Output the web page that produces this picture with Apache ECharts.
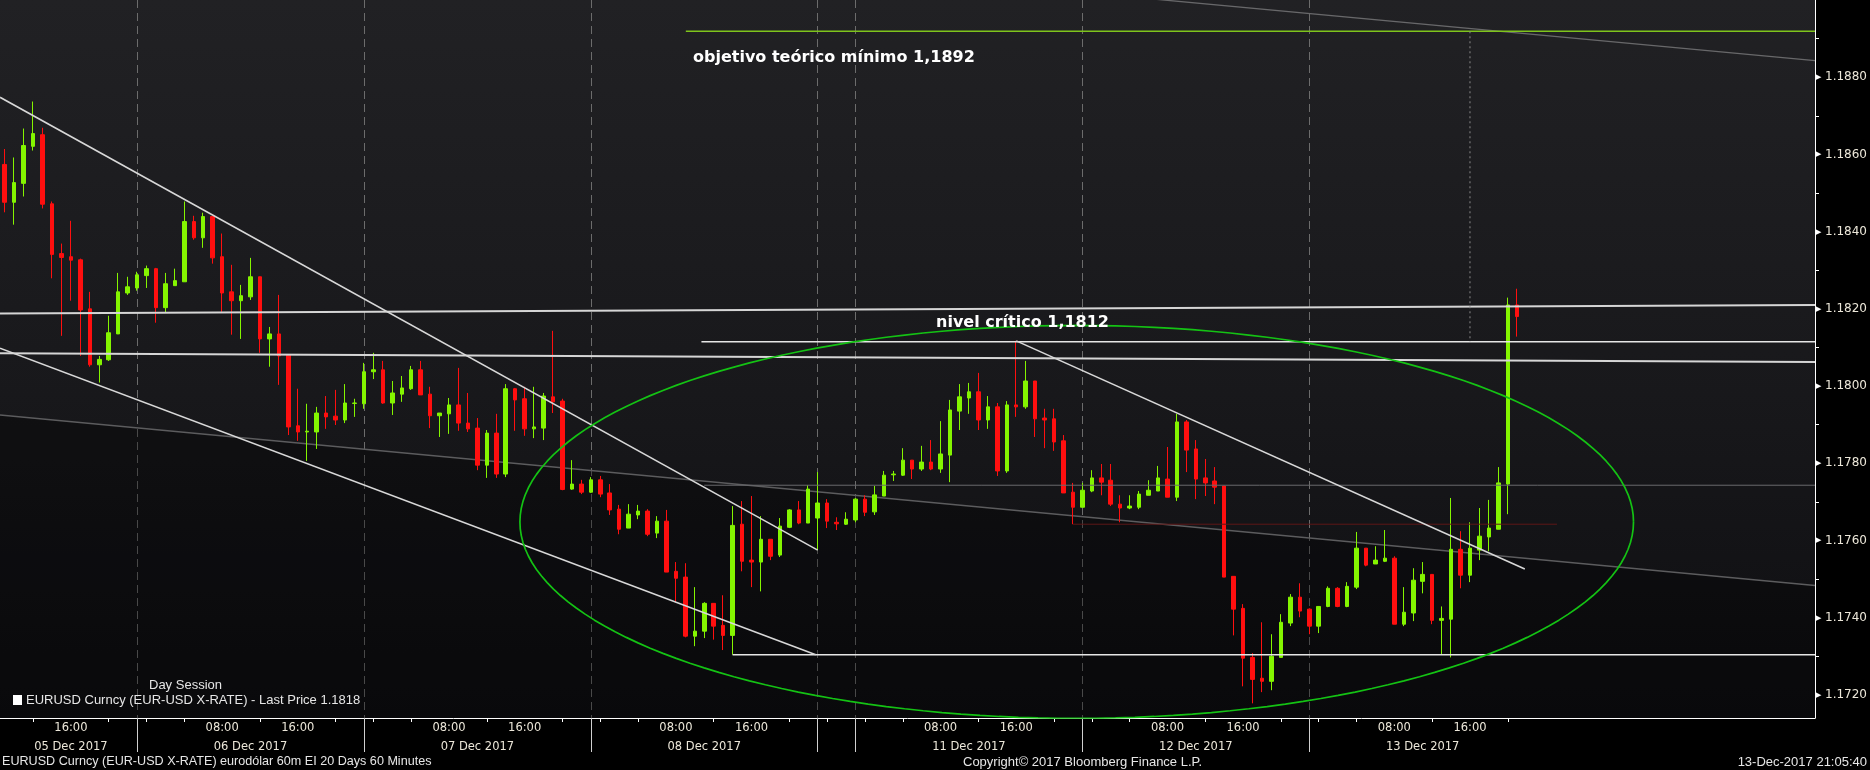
<!DOCTYPE html>
<html><head><meta charset="utf-8">
<script src="https://cdn.jsdelivr.net/npm/echarts@6/dist/echarts.min.js"></script>
<style>html,body{margin:0;padding:0;background:#000;overflow:hidden}#c{width:1870px;height:770px}</style>
</head><body><div id="c"></div>
<script>
// ---- time axis: hourly sessions [startDate, startHour, hours] ----
const sessions = [['2017-12-05', 9, 87], ['2017-12-10', 20, 105]];
const dateLabelCats = ['2017-12-05 16:00','2017-12-06 11:00','2017-12-07 11:00','2017-12-08 11:00','2017-12-11 11:00','2017-12-12 11:00','2017-12-13 11:00'];
const timeLabelHours = [8, 16];
const timeTickHours = [0, 4, 12, 20];
const separatorHour = 23;
const yTicks = {min: 1.1714, max: 1.1900};

// ---- EURUSD 60m OHLC ----
const open = [
1.18574,1.18476,1.18525,1.18621,1.18651,1.18472,1.18343,1.18335,1.18327,1.18200,
1.18055,1.18068,1.18135,1.18241,1.18254,1.18286,1.18304,1.18203,1.18260,1.18270,
1.18426,1.18384,1.18439,1.18335,1.18244,1.18221,1.18231,1.18283,1.18122,1.18135,
1.18080,1.17897,1.17881,1.17881,1.17930,1.17922,1.17912,1.17955,1.17954,1.18037,
1.18042,1.17956,1.17979,1.17993,1.18042,1.17979,1.17923,1.17928,1.17951,1.17904,
1.17891,1.17795,1.17878,1.17772,1.17993,1.17967,1.17889,1.17891,1.17972,1.17961,
1.17733,1.17746,1.17725,1.17757,1.17723,1.17681,1.17632,1.17666,1.17676,1.17619,
1.17650,1.17520,1.17505,1.17352,1.17365,1.17437,1.17380,1.17354,1.17642,1.17549,
1.17544,1.17603,1.17562,1.17634,1.17679,1.17645,1.17658,1.17697,1.17647,1.17642,
1.17653,1.17707,1.17674,1.17715,1.17770,1.17769,1.17808,1.17785,1.17803,1.17785,
1.17821,1.17935,1.17969,1.17985,1.17912,1.17946,1.17780,1.17951,1.17946,1.18013,
1.17917,1.17915,1.17858,1.17725,1.17686,1.17728,1.17762,1.17756,1.17694,1.17684,
1.17686,1.17717,1.17728,1.17759,1.17712,1.17907,1.17837,1.17762,1.17754,1.17741,
1.17507,1.17424,1.17297,1.17243,1.17235,1.17297,1.17386,1.17453,1.17422,1.17378,
1.17429,1.17476,1.17429,1.17479,1.17580,1.17539,1.17546,1.17554,1.17383,1.17412,
1.17494,1.17512,1.17393,1.17396,1.17577,1.17510,1.17575,1.17609,1.17629,1.17746,
1.18210];
const high = [
1.18614,1.18592,1.18667,1.18737,1.18669,1.18478,1.18369,1.18428,1.18330,1.18244,
1.18078,1.18182,1.18293,1.18283,1.18296,1.18312,1.18306,1.18293,1.18304,1.18478,
1.18441,1.18449,1.18439,1.18395,1.18314,1.18262,1.18332,1.18283,1.18153,1.18236,
1.18080,1.17993,1.17954,1.17946,1.17974,1.17990,1.18005,1.17967,1.18060,1.18086,
1.18065,1.18013,1.18026,1.18052,1.18065,1.17998,1.17930,1.17969,1.18047,1.17982,
1.17917,1.17886,1.17928,1.18005,1.17995,1.17998,1.17998,1.17982,1.18143,1.17967,
1.17808,1.17757,1.17764,1.17767,1.17746,1.17692,1.17694,1.17692,1.17681,1.17663,
1.17679,1.17544,1.17541,1.17479,1.17440,1.17437,1.17458,1.17689,1.17702,1.17715,
1.17663,1.17603,1.17658,1.17681,1.17702,1.17743,1.17777,1.17707,1.17660,1.17673,
1.17710,1.17717,1.17741,1.17780,1.17780,1.17839,1.17808,1.17845,1.17860,1.17909,
1.17964,1.18005,1.18008,1.18034,1.17974,1.17956,1.17961,1.18117,1.18065,1.18013,
1.17941,1.17941,1.17873,1.17749,1.17749,1.17782,1.17798,1.17798,1.17717,1.17717,
1.17728,1.17756,1.17793,1.17842,1.17928,1.17912,1.17860,1.17811,1.17790,1.17741,
1.17507,1.17435,1.17308,1.17388,1.17357,1.17409,1.17461,1.17489,1.17424,1.17429,
1.17481,1.17479,1.17492,1.17622,1.17580,1.17585,1.17627,1.17559,1.17479,1.17528,
1.17544,1.17512,1.17429,1.17710,1.17624,1.17647,1.17684,1.17705,1.17790,1.18229,
1.18252];
const low = [
1.18450,1.18418,1.18491,1.18610,1.18460,1.18279,1.18130,1.18221,1.18078,1.18050,
1.18009,1.18065,1.18135,1.18236,1.18247,1.18254,1.18164,1.18190,1.18260,1.18270,
1.18379,1.18358,1.18317,1.18192,1.18133,1.18122,1.18223,1.18086,1.18050,1.18003,
1.17873,1.17858,1.17806,1.17837,1.17889,1.17899,1.17904,1.17920,1.17941,1.18018,
1.17954,1.17925,1.17959,1.17990,1.17977,1.17891,1.17868,1.17876,1.17884,1.17881,
1.17782,1.17762,1.17762,1.17764,1.17884,1.17871,1.17865,1.17860,1.17930,1.17730,
1.17731,1.17720,1.17723,1.17712,1.17666,1.17616,1.17632,1.17655,1.17611,1.17606,
1.17518,1.17440,1.17349,1.17326,1.17347,1.17343,1.17316,1.17304,1.17520,1.17479,
1.17468,1.17549,1.17557,1.17632,1.17642,1.17645,1.17575,1.17632,1.17627,1.17640,
1.17647,1.17663,1.17666,1.17715,1.17754,1.17767,1.17759,1.17780,1.17782,1.17775,
1.17751,1.17886,1.17928,1.17886,1.17889,1.17767,1.17775,1.17920,1.17941,1.17868,
1.17839,1.17832,1.17723,1.17642,1.17686,1.17725,1.17717,1.17689,1.17647,1.17681,
1.17681,1.17717,1.17728,1.17712,1.17702,1.17777,1.17707,1.17715,1.17694,1.17505,
1.17354,1.17222,1.17178,1.17207,1.17212,1.17297,1.17378,1.17401,1.17357,1.17360,
1.17427,1.17427,1.17427,1.17474,1.17533,1.17539,1.17544,1.17383,1.17378,1.17391,
1.17463,1.17383,1.17305,1.17297,1.17476,1.17492,1.17549,1.17572,1.17629,1.17668,
1.18128];
const close = [
1.18476,1.18527,1.18623,1.18654,1.18471,1.18341,1.18333,1.18326,1.18197,1.18055,
1.18069,1.18138,1.18244,1.18257,1.18288,1.18304,1.18203,1.18265,1.18273,1.18426,
1.18384,1.18439,1.18332,1.18241,1.18221,1.18234,1.18283,1.18122,1.18135,1.18078,
1.17894,1.17881,1.17883,1.17930,1.17920,1.17912,1.17956,1.17956,1.18037,1.18042,
1.17956,1.17982,1.17995,1.18042,1.17977,1.17923,1.17930,1.17951,1.17904,1.17889,
1.17795,1.17878,1.17772,1.17993,1.17964,1.17889,1.17894,1.17974,1.17959,1.17732,
1.17746,1.17725,1.17757,1.17720,1.17679,1.17629,1.17668,1.17676,1.17616,1.17650,
1.17518,1.17502,1.17352,1.17365,1.17437,1.17378,1.17354,1.17639,1.17546,1.17544,
1.17603,1.17559,1.17637,1.17679,1.17645,1.17733,1.17697,1.17650,1.17643,1.17655,
1.17707,1.17673,1.17718,1.17769,1.17772,1.17808,1.17785,1.17803,1.17785,1.17824,
1.17938,1.17972,1.17985,1.17912,1.17946,1.17780,1.17951,1.17946,1.18013,1.17915,
1.17912,1.17855,1.17723,1.17686,1.17730,1.17762,1.17751,1.17694,1.17684,1.17689,
1.17720,1.17730,1.17762,1.17712,1.17907,1.17834,1.17759,1.17749,1.17738,1.17505,
1.17422,1.17295,1.17240,1.17235,1.17300,1.17388,1.17453,1.17417,1.17378,1.17429,
1.17476,1.17429,1.17481,1.17580,1.17536,1.17549,1.17554,1.17383,1.17414,1.17497,
1.17512,1.17393,1.17398,1.17577,1.17510,1.17580,1.17611,1.17632,1.17749,1.18210,
1.18180];

// ---- drawn studies: [candle number, price] ----
const upperChannel = [[0.5, 1.18748], [87, 1.17575]];
const lowerChannel = [[0.5, 1.18098], [86.8, 1.17304]];
const support1730  = [[78, 1.17304], [192.5, 1.17304]];
const res1820      = [[0.5, 1.18188], [192.5, 1.18210]];
const res1808      = [[0.5, 1.18085], [192.5, 1.18062]];
const nivelCritico = [[74.7, 1.18115], [192.5, 1.18115]];
const objetivo     = [[73.05, 1.18919], [192.5, 1.18919]];
const grayTop      = [[110, 1.19031], [192.5, 1.18843]];
const grayChannel  = [[0.5, 1.17925], [192.5, 1.17483]];
const gray1774     = [[75, 1.17743], [192.5, 1.17743]];
const red1764      = [[114, 1.17642], [165.2, 1.17642]];
const fromCritico  = [[108, 1.18117], [161.8, 1.17526]];
const projection   = [[156, 1.18919], [156, 1.18115]];
const ellipseDef   = {cx: 114.4, cy: 1.17648, rx: 58.9, ry: 0.00509};

// ---- build categories ----
const pad = n => String(n).padStart(2, '0');
const categories = [];
sessions.forEach(([d, h, n]) => {
  const t0 = Date.parse(d + 'T00:00:00Z') + h * 3600e3;
  for (let i = 0; i < n; i++) {
    const t = new Date(t0 + i * 3600e3);
    categories.push(t.getUTCFullYear() + '-' + pad(t.getUTCMonth() + 1) + '-' + pad(t.getUTCDate()) + ' ' + pad(t.getUTCHours()) + ':00');
  }
});
const nCandles = open.length;
const hourOf = i => +categories[i].slice(11, 13);
const isSep = i => i < nCandles && hourOf(i) === separatorHour;
const isTimeLabel = i => i < nCandles && timeLabelHours.includes(hourOf(i));
const isTimeTick = i => i < nCandles && timeTickHours.includes(hourOf(i));
const MON = ['Jan','Feb','Mar','Apr','May','Jun','Jul','Aug','Sep','Oct','Nov','Dec'];
const fmtDate = v => v.slice(8, 10) + ' ' + MON[+v.slice(5, 7) - 1] + ' ' + v.slice(0, 4);

const ohlc = open.map((o, i) => [o, close[i], low[i], high[i]]);
const ellipsePts = [];
for (let k = 0; k <= 180; k++) {
  const a = 2 * Math.PI * k / 180;
  ellipsePts.push([ellipseDef.cx + ellipseDef.rx * Math.cos(a), ellipseDef.cy + ellipseDef.ry * Math.sin(a)]);
}

const lbl = '#ece7d9';
const FONT = 'DejaVu Sans';
function study(data, color, width, type, extra) {
  return Object.assign({
    type: 'line', xAxisIndex: 2, yAxisIndex: 0, data, symbol: 'none', silent: true,
    lineStyle: {color, width, type: type || 'solid'}, z: 5, animation: false
  }, extra || {});
}

const chart = echarts.init(document.getElementById('c'));
chart.setOption({
  backgroundColor: '#000000',
  animation: false,
  grid: {
    left: 0, right: 52, top: 0, bottom: 52, show: true, borderWidth: 0,
    backgroundColor: {type: 'linear', x: 0, y: 0, x2: 0, y2: 1, colorStops: [
      {offset: 0, color: '#212124'}, {offset: 0.55, color: '#18181b'}, {offset: 1, color: '#0e0e11'}]}
  },
  xAxis: [
    {
      type: 'category', data: categories, boundaryGap: true, position: 'bottom',
      axisLine: {show: true, lineStyle: {color: '#ffffff', width: 1}},
      axisTick: {show: true, alignWithLabel: true, length: 4, interval: isTimeTick, lineStyle: {color: '#ffffff'}},
      axisLabel: {show: true, interval: isTimeLabel, formatter: v => v.slice(11, 16), color: lbl, fontFamily: FONT, fontSize: 11.5, margin: 4},
      splitLine: {show: false}
    },
    {
      type: 'category', data: categories, boundaryGap: true, position: 'bottom',
      axisLine: {show: false},
      axisTick: {show: true, alignWithLabel: true, length: 34, interval: isSep, lineStyle: {color: '#d0d0d0'}},
      axisLabel: {show: true, interval: i => dateLabelCats.includes(categories[i]), formatter: fmtDate, color: lbl, fontFamily: FONT, fontSize: 11.5, margin: 23},
      splitLine: {show: true, alignWithLabel: true, interval: isSep, lineStyle: {color: '#6c6c6c', width: 1, type: [8, 5]}}
    },
    {type: 'value', min: 0.5, max: 192.5, show: false, position: 'top'}
  ],
  yAxis: {
    type: 'value', position: 'right', min: yTicks.min, max: yTicks.max, splitNumber: 9,
    axisLine: {show: true, lineStyle: {color: '#ffffff', width: 1}},
    axisTick: {show: false},
    minorTick: {show: true, splitNumber: 2, length: 4, lineStyle: {color: '#ffffff'}},
    splitLine: {show: false},
    axisLabel: {
      showMinLabel: false, showMaxLabel: false, margin: 1,
      formatter: v => '{a|\u25B6}{b|' + v.toFixed(4) + '}',
      rich: {a: {fontSize: 7, color: '#ffffff', padding: [0, 4, 0, 0]}, b: {fontSize: 12, color: lbl, fontFamily: FONT}}
    }
  },
  series: [
    study(grayChannel, '#5c5c5e', 1.5, 'solid', {z: 1, areaStyle: {origin: 'start', color: 'rgba(0,0,0,0.45)'}}),
    {
      type: 'candlestick', xAxisIndex: 0, yAxisIndex: 0, data: ohlc, barWidth: 4, z: 3, silent: true,
      itemStyle: {color: '#84f500', color0: '#ff0f0f', borderColor: '#84f500', borderColor0: '#ff0f0f', borderWidth: 1}
    },
    study(gray1774, '#6a6a6c', 1),
    study(red1764, '#5e1717', 1),
    study(grayTop, '#68686a', 1.3),
    study(res1820, '#d6d6d6', 2),
    study(res1808, '#d6d6d6', 2),
    study(nivelCritico, '#e6e6e6', 1.5),
    study(support1730, '#e6e6e6', 1.5),
    study(upperChannel, '#d8d8d8', 1.6),
    study(lowerChannel, '#d8d8d8', 1.6),
    study(fromCritico, '#d8d8d8', 1.6),
    study(objetivo, '#7fc41c', 1.5),
    study(projection, '#8a8a8a', 1, [2, 3]),
    study(ellipsePts, '#14c214', 1.7)
  ],
  graphic: [
    {type: 'text', x: 693, y: 58, z: 100, style: {text: 'objetivo te\u00f3rico m\u00ednimo 1,1892', fill: '#ffffff', font: 'bold 16px "DejaVu Sans"', align: 'left', verticalAlign: 'middle'}},
    {type: 'text', x: 936, y: 323, z: 100, style: {text: 'nivel cr\u00edtico 1,1812', fill: '#ffffff', font: 'bold 16px "DejaVu Sans"', align: 'left', verticalAlign: 'middle'}},
    {type: 'text', x: 149, y: 685, z: 100, style: {text: 'Day Session', fill: '#e6e6e6', font: '13px "Liberation Sans"', align: 'left', verticalAlign: 'middle'}},
    {type: 'rect', x: 13, y: 695, z: 100, shape: {width: 9, height: 10}, style: {fill: '#ffffff'}},
    {type: 'text', x: 26, y: 700, z: 100, style: {text: 'EURUSD Curncy (EUR-USD X-RATE) - Last Price 1.1818', fill: '#e6e6e6', font: '13px "Liberation Sans"', align: 'left', verticalAlign: 'middle'}},
    {type: 'text', x: 2, y: 762, z: 100, style: {text: 'EURUSD Curncy (EUR-USD X-RATE) eurod\u00f3lar 60m EI 20 Days 60 Minutes', fill: '#e6e6e6', font: '12.6px "Liberation Sans"', align: 'left', verticalAlign: 'middle'}},
    {type: 'text', x: 963, y: 762, z: 100, style: {text: 'Copyright\u00a9 2017 Bloomberg Finance L.P.', fill: '#e6e6e6', font: '13px "Liberation Sans"', align: 'left', verticalAlign: 'middle'}},
    {type: 'text', x: 1867, y: 762, z: 100, style: {text: '13-Dec-2017 21:05:40', fill: '#e6e6e6', font: '13px "Liberation Sans"', align: 'right', verticalAlign: 'middle'}}
  ]
});
</script></body></html>
